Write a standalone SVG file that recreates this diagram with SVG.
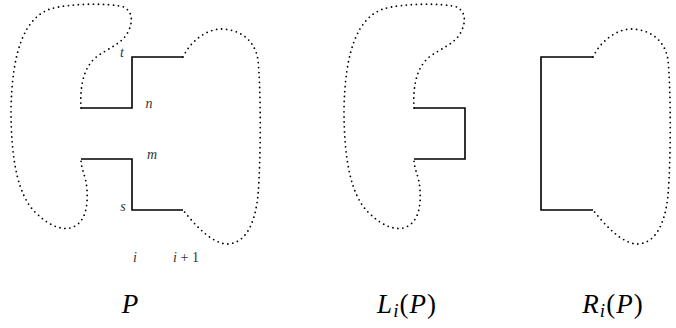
<svg xmlns="http://www.w3.org/2000/svg" width="676" height="328" viewBox="0 0 676 328">
<style>
.dot{fill:none;stroke:#000;stroke-width:1.8;stroke-linecap:round;stroke-dasharray:0 5}
.sol{fill:none;stroke:#000;stroke-width:1.6;stroke-linejoin:miter}
text{font-family:'Liberation Serif','DejaVu Serif',serif}
.lab{font-style:italic;font-size:14px;fill:#333}
.num{font-style:normal;font-size:14px;fill:#333}
.big{font-style:italic;font-size:27px;fill:#000}
.bign{font-style:normal;font-size:27px;fill:#000}
.sub{font-style:italic;font-size:19px;fill:#000}
</style>
<defs>
<path id="lb" d="M81,108 C80,90 82,70 95,58 C108,48 122,44 128,32 C133,22 133,12 124,7 C110,3 70,3 50,9 C25,18 12,50 11,110 C11,160 18,195 35,212 C48,225 60,230 70,228 C86,224 88,205 87,190 C86,175 81,170 81,159"/>
<path id="rb" d="M183,57 C190,42 205,30 220,29 C240,29 255,40 258,60 C261,90 261,160 258,195 C255,225 245,243 228,244 C212,244 195,225 183,210"/>
</defs>
<g id="P">
<use href="#lb" class="dot"/>
<use href="#rb" class="dot"/>
<path class="sol" d="M81,108 H132 V57 H183"/>
<path class="sol" d="M81,159 H132 V210 H183"/>
<text class="lab" x="122" y="57" text-anchor="middle">t</text>
<text class="lab" x="149" y="108" text-anchor="middle">n</text>
<text class="lab" x="152" y="159" text-anchor="middle">m</text>
<text class="lab" x="123" y="211" text-anchor="middle">s</text>
<text class="lab" x="135" y="262" text-anchor="middle">i</text>
<text x="186" y="262" text-anchor="middle"><tspan class="lab">i</tspan><tspan class="num"> + 1</tspan></text>
<text class="big" x="130" y="313" text-anchor="middle">P</text>
</g>
<g id="LiP">
<use href="#lb" class="dot" transform="translate(333,0)"/>
<path class="sol" d="M414,108 H465 V159 H414"/>
<text x="407" y="313" text-anchor="middle" letter-spacing="1"><tspan class="big">L</tspan><tspan class="sub" dy="4">i</tspan><tspan class="bign" dy="-4">(</tspan><tspan class="big">P</tspan><tspan class="bign">)</tspan></text>
</g>
<g id="RiP">
<use href="#rb" class="dot" transform="translate(410,0)"/>
<path class="sol" d="M593,57 H541 V210 H593"/>
<text x="613" y="313" text-anchor="middle" letter-spacing="1"><tspan class="big">R</tspan><tspan class="sub" dy="4">i</tspan><tspan class="bign" dy="-4">(</tspan><tspan class="big">P</tspan><tspan class="bign">)</tspan></text>
</g>
</svg>
